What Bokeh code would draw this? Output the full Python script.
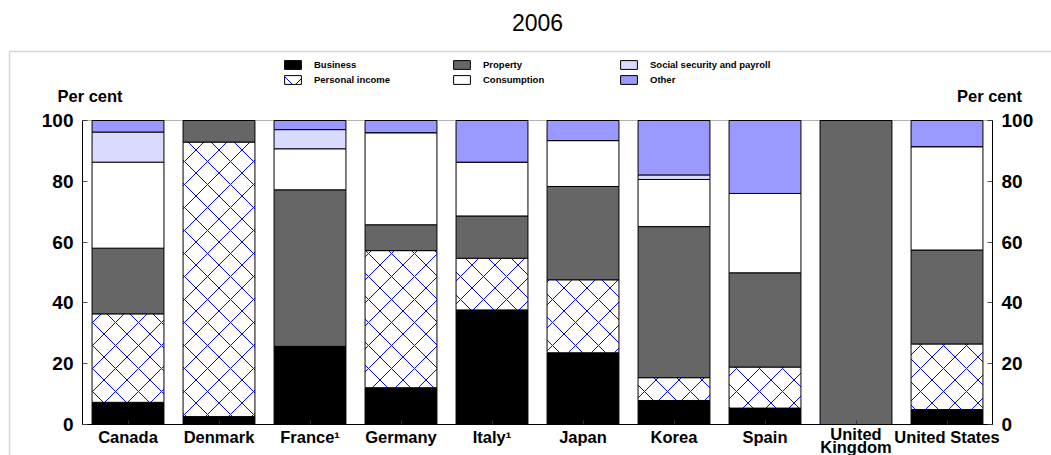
from bokeh.plotting import figure
from bokeh.models import (Range1d, LinearAxis, FixedTicker, Label, Legend, LegendItem,
                          PolyAnnotation, ColumnDataSource)
from bokeh.core.properties import value
from bokeh.transform import stack
from bokeh.embed import file_html
from bokeh.resources import INLINE

# ---------------- data ----------------
title_text = "2006"
countries = ["Canada", "Denmark", "France\u00b9", "Germany", "Italy\u00b9", "Japan",
             "Korea", "Spain", "United\nKingdom", "United States"]
business = [7.3, 2.6, 25.7, 12.1, 37.7, 23.6, 7.9, 5.4, 0.0, 4.9]
personal_income = [29.1, 90.3, 0.0, 45.1, 17.0, 24.0, 7.5, 13.5, 0.0, 21.6]
property_tax = [21.6, 7.1, 51.5, 8.5, 13.9, 30.7, 49.7, 31.0, 100.0, 30.9]
consumption = [28.3, 0.0, 13.5, 30.3, 17.7, 15.1, 15.5, 26.1, 0.0, 34.0]
social_security = [9.9, 0.0, 6.3, 0.0, 0.0, 0.0, 1.5, 0.0, 0.0, 0.0]
other = [3.8, 0.0, 3.0, 4.0, 13.7, 6.6, 17.9, 24.0, 0.0, 8.6]
y_ticks = [0, 20, 40, 60, 80, 100]
y_unit = "Per cent"

series_names = ["Business", "Personal income", "Property", "Consumption",
                "Social security and payroll", "Other"]
series_values = [business, personal_income, property_tax, consumption, social_security, other]

# ---------------- layout / styles ----------------
FONT = "Liberation Sans"
fills = ["#000000", "#ffffff", "#666666", "#ffffff", "#dadaff", "#9999ff"]
hatches = [None, "diagonal_cross", None, None, None, None]

W, H = 1051, 455
# chart box in page pixels
BX0, BX1, BY0, BY1 = 82, 992, 120, 424
n = len(countries)
x_positions = list(range(n))
XA, XB = -0.5, n - 0.5          # data x at box left/right
YA, YB = 0, 100                 # data y at box bottom/top

def dx(px):
    return XA + (px - BX0) / (BX1 - BX0) * (XB - XA)

def dy(py):
    return YA + (BY1 - py) / (BY1 - BY0) * (YB - YA)

xr = Range1d(dx(0), dx(W))
yr = Range1d(dy(H), dy(0))

p = figure(width=W, height=H, x_range=xr, y_range=yr, output_backend="svg",
           toolbar_location=None, min_border=0, min_border_left=0, min_border_right=0,
           min_border_top=0, min_border_bottom=0)
p.xgrid.visible = False
p.ygrid.visible = False
p.outline_line_color = None
p.background_fill_color = "white"
p.border_fill_color = "white"

keys = ["s%d" % i for i in range(len(series_names))]
data = {"x": x_positions}
for k, v in zip(keys, series_values):
    data[k] = v
src = ColumnDataSource(data)

renderers = []
for i, k in enumerate(keys):
    kw = dict(x="x", width=0.79, bottom=stack(*keys[:i]) if i else 0,
              top=stack(*keys[:i + 1]), source=src, fill_color=fills[i],
              line_color="black", line_width=1)
    if hatches[i]:
        kw.update(hatch_pattern=hatches[i], hatch_color="#0000ff",
                  hatch_scale=23, hatch_weight=1)
    renderers.append(p.vbar(**kw))

# chart box
p.add_layout(PolyAnnotation(xs=[XA, XB, XB, XA], ys=[YA, YA, YB, YB],
                            fill_alpha=0, line_color="black", line_width=1))

# axes placed at the chart box edges
xax = p.xaxis[0]
xax.fixed_location = YA
xax.bounds = (XA, XB)
xax.ticker = FixedTicker(ticks=x_positions)
xax.major_label_overrides = {i: "" for i in x_positions}
xax.major_tick_in = 4
xax.major_tick_out = 0
xax.minor_tick_line_color = None
xax.axis_line_color = "black"
xax.major_tick_line_color = "#333333"

def style_y(ax, loc):
    ax.fixed_location = loc
    ax.bounds = (YA, YB)
    ax.ticker = FixedTicker(ticks=y_ticks)
    ax.major_tick_in = 5
    ax.major_tick_out = 0
    ax.minor_tick_line_color = None
    ax.axis_line_color = "black"
    ax.major_tick_line_color = "#555555"
    ax.major_label_text_font = FONT
    ax.major_label_text_font_style = "bold"
    ax.major_label_text_font_size = "19px"
    ax.major_label_text_color = "black"
    ax.major_label_standoff = 9

style_y(p.yaxis[0], XA)
ry = LinearAxis()
p.add_layout(ry, "right")
style_y(ry, XB)

# country labels
for xi, name in zip(x_positions, countries):
    multi = "\n" in name
    p.add_layout(Label(x=xi, y=dy(440 if multi else 436), text=name,
                       text_align="center", text_baseline="middle", text_font=FONT,
                       text_font_style="bold", text_font_size="16.5px",
                       text_line_height=0.75, text_color="black"))

# title and unit labels
p.add_layout(Label(x=dx(537), y=dy(22), text=title_text, text_align="center",
                   text_baseline="middle", text_font=FONT, text_font_size="23px",
                   text_color="black"))
for cx in (89.5, 989):
    p.add_layout(Label(x=dx(cx), y=dy(95), text=y_unit, text_align="center",
                       text_baseline="middle", text_font=FONT, text_font_style="bold",
                       text_font_size="16.5px", text_color="black"))

# outer frame (left and top edges visible)
p.add_layout(PolyAnnotation(xs=[dx(9), dx(3000), dx(3000), dx(9)],
                            ys=[dy(51), dy(51), dy(3000), dy(3000)],
                            fill_alpha=0, line_color="#777777", line_width=1.5))

# legends: three columns of two items
col_x = [282, 451, 618]
for c in range(3):
    items = [LegendItem(label=value(series_names[j]), renderers=[renderers[j]])
             for j in (2 * c, 2 * c + 1)]
    leg = Legend(items=items, location=(col_x[c], H - 85),
                 glyph_width=21, glyph_height=11, label_height=11, label_standoff=11,
                 spacing=4, padding=0, margin=0, border_line_color=None,
                 background_fill_alpha=0, label_text_font=FONT,
                 label_text_font_style="bold", label_text_font_size="9.5px",
                 label_text_color="black")
    p.add_layout(leg)

open("out.html", "w").write(file_html(p, INLINE))
